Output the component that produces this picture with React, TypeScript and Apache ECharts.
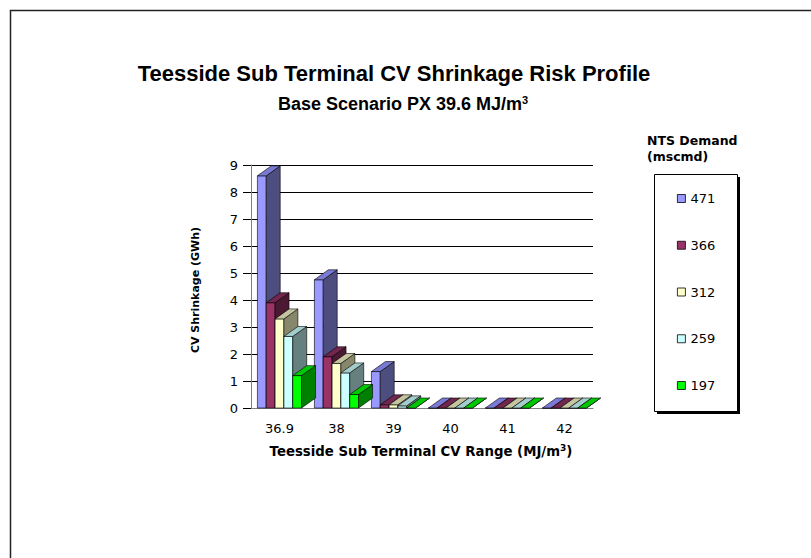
import React, { useEffect, useRef } from "react";
import * as echarts from "echarts";

const categories = ["36.9", "38", "39", "40", "41", "42"];
const seriesNames = ["471", "366", "312", "259", "197"];
const s471 = [8.6, 4.75, 1.35, 0, 0, 0];
const s366 = [3.9, 1.9, 0.12, 0, 0, 0];
const s312 = [3.3, 1.65, 0.12, 0, 0, 0];
const s259 = [2.65, 1.3, 0.08, 0, 0, 0];
const s197 = [1.2, 0.5, 0.0, 0, 0, 0];
const seriesValues = [s471, s366, s312, s259, s197];
const yTicks = [0, 1, 2, 3, 4, 5, 6, 7, 8, 9];

const frontColors = ["#9999FF", "#993366", "#FFFFCC", "#CCFFFF", "#00FF00"];
const topColors = ["#7A7AD6", "#73264D", "#C4C4A0", "#A3CCCC", "#00C800"];
const sideColors = ["#4D4D80", "#4C1933", "#87876C", "#668080", "#008000"];

const SMALL = "DejaVu Sans, Liberation Sans, Arial, sans-serif";
const ARIAL = "Liberation Sans, Arial, sans-serif";

function makeRenderItem(sIdx: number) {
  return (params: any, api: any) => {
    const cat = api.value(0);
    const val = api.value(1);
    const base = api.coord([cat, 0]);
    const top = api.coord([cat, val]);
    const bandW = api.size([1, 0])[0];
    const bw = bandW * 0.155;
    const dx = bandW * 0.245;
    const dy = bandW * 0.175;
    const x0 = base[0] - 2.5 * bw + sIdx * bw;
    const x1 = x0 + bw;
    const yb = base[1];
    const yt = top[1];
    const stroke = { stroke: "#000", lineWidth: 0.6 };
    return {
      type: "group",
      children: [
        {
          type: "polygon",
          shape: { points: [[x0, yb], [x1, yb], [x1, yt], [x0, yt]] },
          style: { fill: frontColors[sIdx], ...stroke },
        },
        {
          type: "polygon",
          shape: { points: [[x1, yb], [x1 + dx, yb - dy], [x1 + dx, yt - dy], [x1, yt]] },
          style: { fill: sideColors[sIdx], ...stroke },
        },
        {
          type: "polygon",
          shape: { points: [[x0, yt], [x1, yt], [x1 + dx, yt - dy], [x0 + dx, yt - dy]] },
          style: { fill: topColors[sIdx], ...stroke },
        },
      ],
    };
  };
}

export default function App() {
  const ref = useRef<HTMLDivElement>(null);
  useEffect(() => {
    if (!ref.current) return;
    const chart = echarts.init(ref.current, null, { renderer: "svg" });
    const series = seriesNames.map((name, i) => ({
      type: "custom",
      name,
      renderItem: makeRenderItem(i),
      itemStyle: { color: frontColors[i], borderColor: "#000", borderWidth: 0.8 },
      data: seriesValues[i].map((v, j) => [j, v]),
      encode: { x: 0, y: 1 },
      z: 2,
    }));
    chart.setOption({
      animation: false,
      backgroundColor: "#fff",
      grid: { left: 251, top: 165, width: 342, height: 243, containLabel: false },
      xAxis: {
        type: "category",
        data: categories,
        axisLine: { show: true, lineStyle: { color: "#808080", width: 1 } },
        axisTick: { show: false },
        axisLabel: { margin: 14, fontSize: 13, color: "#000", fontFamily: SMALL },
        splitLine: { show: false },
      },
      yAxis: {
        type: "value",
        min: yTicks[0],
        max: yTicks[yTicks.length - 1],
        interval: 1,
        axisLine: { show: true, lineStyle: { color: "#808080", width: 1 } },
        axisTick: { show: true, length: 8, lineStyle: { color: "#000" } },
        axisLabel: { margin: 13, fontSize: 13, color: "#000", fontFamily: SMALL },
        splitLine: { show: true, lineStyle: { color: "#000", width: 1 } },
      },
      legend: {
        orient: "vertical",
        left: 677,
        top: 192,
        padding: 0,
        itemWidth: 8,
        itemHeight: 8,
        itemGap: 33.75,
        icon: "rect",
        data: seriesNames,
        textStyle: { fontSize: 13, color: "#000", fontFamily: SMALL },
        itemStyle: { borderColor: "#000", borderWidth: 0.8 },
        selectedMode: false,
      },
      graphic: [
        {
          type: "polyline",
          shape: { points: [[10.5, 600], [10.5, 10.5], [900, 10.5]] },
          style: { stroke: "#222", lineWidth: 1.5, fill: "none" },
          silent: true,
        },
        {
          type: "rect",
          shape: { x: 657, y: 177, width: 83, height: 237 },
          style: { fill: "#000" },
          z: -1,
        },
        {
          type: "rect",
          shape: { x: 654.5, y: 174.5, width: 83, height: 237 },
          style: { fill: "#fff", stroke: "#000", lineWidth: 1 },
          z: -1,
        },
        {
          type: "text",
          x: 394,
          y: 73,
          style: {
            text: "Teesside Sub Terminal CV Shrinkage Risk Profile",
            font: `bold 22px ${ARIAL}`,
            fill: "#000",
            textAlign: "center",
            textVerticalAlign: "middle",
          },
        },
        {
          type: "text",
          x: 403,
          y: 104,
          style: {
            text: "Base Scenario PX 39.6 MJ/m{sup|3}",
            font: `bold 18px ${ARIAL}`,
            fill: "#000",
            textAlign: "center",
            textVerticalAlign: "middle",
            rich: { sup: { font: `bold 11px ${ARIAL}`, verticalAlign: "top", padding: [0, 0, 9, 0] } },
          },
        },
        {
          type: "text",
          x: 647,
          y: 132,
          style: {
            text: "NTS Demand\n(mscmd)",
            font: `bold 12.5px ${SMALL}`,
            lineHeight: 16,
            fill: "#000",
            textAlign: "left",
            textVerticalAlign: "top",
          },
        },
        {
          type: "text",
          x: 195,
          y: 290,
          rotation: Math.PI / 2,
          style: {
            text: "CV Shrinkage (GWh)",
            font: `bold 11px ${SMALL}`,
            fill: "#000",
            textAlign: "center",
            textVerticalAlign: "middle",
          },
        },
        {
          type: "text",
          x: 421,
          y: 451,
          style: {
            text: "Teesside Sub Terminal CV Range (MJ/m{sup|3})",
            font: `bold 13.3px ${SMALL}`,
            fill: "#000",
            textAlign: "center",
            textVerticalAlign: "middle",
            rich: { sup: { font: `bold 9px ${SMALL}`, verticalAlign: "top", padding: [0, 0, 6, 0] } },
          },
        },
      ],
      series,
    });
    return () => chart.dispose();
  }, []);
  return (
    <div
      ref={ref}
      style={{ position: "fixed", left: 0, top: 0, width: 811, height: 558, background: "#fff" }}
    />
  );
}
